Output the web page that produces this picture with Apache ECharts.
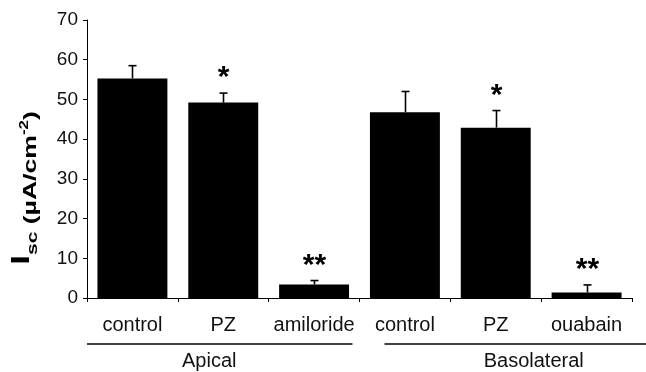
<!DOCTYPE html>
<html><head><meta charset="utf-8">
<script src="https://cdn.jsdelivr.net/npm/echarts@6/dist/echarts.min.js"></script>
<style>html,body{margin:0;padding:0;background:#fff}#c{width:646px;height:372px}</style>
</head><body><div id="c"></div>
<script>
var categories = ['control', 'PZ', 'amiloride', 'control', 'PZ', 'ouabain'];
var values = [55.3, 49.2, 3.4, 46.8, 42.9, 1.4];
var errorTops = [58.5, 51.6, 4.4, 52.0, 47.2, 3.3];
var significance = ['', '*', '**', '', '*', '**'];
var groups = ['Apical', 'Basolateral'];
var groupSpans = [[0, 2], [3, 5]];
var yTicks = [0, 10, 20, 30, 40, 50, 60, 70];

var FONT = '"Liberation Sans", Arial, sans-serif';
var chart = echarts.init(document.getElementById('c'));
var option = {
  animation: false,
  grid: {left: 87, right: 14, top: 20, bottom: 74, outerBoundsMode: 'none', containLabel: false},
  xAxis: {
    type: 'category', data: categories,
    axisLine: {lineStyle: {color: '#000', width: 1}},
    axisTick: {show: true, length: 4, lineStyle: {color: '#000'}},
    axisLabel: {color: '#111', fontFamily: FONT, fontSize: 20, margin: 17, interval: 0}
  },
  yAxis: {
    type: 'value', min: yTicks[0], max: yTicks[yTicks.length - 1], interval: 10,
    splitLine: {show: false},
    axisLine: {show: true, lineStyle: {color: '#000', width: 1}},
    axisTick: {show: true, length: 4, lineStyle: {color: '#000'}},
    axisLabel: {color: '#111', fontFamily: FONT, fontSize: 19, margin: 9}
  },
  series: [
    {
      type: 'bar', data: values, barCategoryGap: '23%',
      itemStyle: {color: '#000'}, z: 2
    },
    {
      type: 'custom', z: 3,
      data: errorTops.map(function (t, i) { return [i, values[i], t]; }),
      renderItem: function (params, api) {
        var base = api.coord([api.value(0), api.value(1)]);
        var top = api.coord([api.value(0), api.value(2)]);
        var x = Math.round(base[0]) + 0.5;
        var children = [
          {type: 'line', shape: {x1: x, y1: base[1], x2: x, y2: top[1]}, style: {stroke: '#000', lineWidth: 1.6}},
          {type: 'line', shape: {x1: x - 4, y1: top[1], x2: x + 4, y2: top[1]}, style: {stroke: '#000', lineWidth: 1.6}}
        ];
        var sig = significance[params.dataIndex];
        if (sig) {
          children.push({type: 'text', style: {text: sig, x: x, y: top[1], align: 'center', verticalAlign: 'bottom',
            font: 'bold 30px ' + FONT, fill: '#000'}});
        }
        return {type: 'group', children: children};
      }
    }
  ]
};
chart.setOption(option);

// annotations placed from axis coordinates
var step = chart.convertToPixel({xAxisIndex: 0}, 1) - chart.convertToPixel({xAxisIndex: 0}, 0);
var yTop = chart.convertToPixel({yAxisIndex: 0}, yTicks[yTicks.length - 1]);
var yBot = chart.convertToPixel({yAxisIndex: 0}, yTicks[0]);
var xAxis0 = chart.convertToPixel({xAxisIndex: 0}, 0) - step / 2;
var graphics = [];
groupSpans.forEach(function (sp, g) {
  var x0 = chart.convertToPixel({xAxisIndex: 0}, sp[0]) - step / 2;
  var x1 = chart.convertToPixel({xAxisIndex: 0}, sp[1]) + step / 2;
  var lx0 = g === 0 ? x0 : x0 + 25;
  var lx1 = g === 0 ? x1 - 7 : x1 + 14;
  graphics.push({type: 'line', shape: {x1: lx0, y1: yBot + 46, x2: lx1, y2: yBot + 46}, style: {stroke: '#000', lineWidth: 1.5}});
  graphics.push({type: 'text', style: {text: groups[g], x: (x0 + x1) / 2 + (g === 0 ? -14 : 38), y: yBot + 63, align: 'center', verticalAlign: 'middle',
    font: '20px ' + FONT, fill: '#111'}});
});
graphics.push({
  type: 'text', x: xAxis0 - 61, y: (yTop + yBot) / 2 + 29, rotation: Math.PI / 2, scaleX: 1.4,
  style: {
    text: '{i|I}{s|sc}{m| (µA/cm}{p|-2}{m|)}', align: 'center', verticalAlign: 'middle',
    rich: {
      i: {fontFamily: FONT, fontWeight: 'bold', fontSize: 25, fill: '#000', verticalAlign: 'bottom', lineHeight: 28, padding: [0, 0, 5, 0]},
      s: {fontFamily: FONT, fontWeight: 'bold', fontSize: 15, fill: '#000', verticalAlign: 'bottom', lineHeight: 28},
      m: {fontFamily: FONT, fontWeight: 'bold', fontSize: 19, fill: '#000', verticalAlign: 'bottom', lineHeight: 28},
      p: {fontFamily: FONT, fontWeight: 'bold', fontSize: 12, fill: '#000', verticalAlign: 'bottom', lineHeight: 28, padding: [0, 0, 9, 0]}
    }
  }
});
chart.setOption({graphic: graphics});
</script></body></html>
